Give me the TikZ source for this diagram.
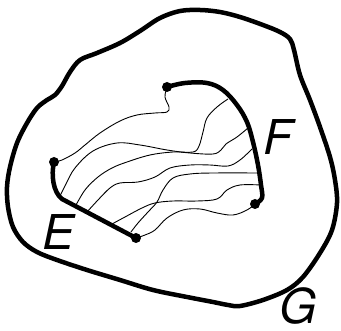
\documentclass[tikz,border=0pt]{standalone}
\usepackage{fontspec}
\setmainfont{TeX Gyre Heros}
\tikzset{
  outer/.style={line width=4.5pt, line join=round},
  bound/.style={line width=4.5pt, line cap=round, line join=round},
  thin/.style={line width=0.9pt},
  dotm/.style={fill=black},
  lab/.style={inner sep=0pt, font=\fontsize{48}{48}\selectfont\itshape}
}
\begin{document}
\begin{tikzpicture}[x=1pt,y=-1pt]
\useasboundingbox (0,0) rectangle (341,331);
% outer region G
\draw[outer] plot[smooth cycle, tension=0.55] coordinates {
 (80,60) (97,53) (120,43) (140,31) (160,18) (180,11) (200,10) (220,12) (240,17)
 (263,25) (280,32) (290,39) (294,50) (300,75) (310,100) (320,127) (330,157) (335,180)
 (337,203) (332,230) (320,253) (303,277) (287,290) (263,300) (240,306) (228,305)
 (213,302) (187,297) (153,290) (120,280) (87,270) (57,260) (37,252) (23,242)
 (13,227) (8,207) (7,187) (10,167) (17,143) (27,123) (37,108) (47,100) (55,95)
 (62,86) (70,72) };
% dots
\coordinate (P) at (167,87);
\coordinate (Q) at (54,162);
\coordinate (R) at (136,238);
\coordinate (S) at (255,204);
\coordinate (C) at (62,199);
% thick boundary F
\draw[bound] plot[smooth, tension=0.6] coordinates {
 (P) (185,83) (207,83) (223,90) (237,105) (247,122) (253,142) (258,165) (261,185) (262,198) (S) };
% thick boundary E
\draw[bound] (Q) .. controls (51,175) and (53,192) .. (C) -- (R);
% thin curves
\draw[thin] plot[smooth, tension=0.6] coordinates {
 (P) (165,97) (169,107) (167,112) (155,113) (137,115) (120,121) (100,133) (85,145) (75,153) (62,160) (Q) };
\draw[thin] plot[smooth, tension=0.6] coordinates {
 (60,196) (66,184) (75,168) (93,151) (117,143) (140,145) (167,150) (190,153) (213,154) (221,150) (226,144) (237,137) (248,128) };
\draw[thin] plot[smooth, tension=0.6] coordinates {
 (75,207) (85,190) (98,177) (112,168) (127,162) (150,155) (173,152) (193,152) (199,146) (203,132) (207,118) (217,107) (228,99) };
\draw[thin] plot[smooth, tension=0.6] coordinates {
 (87,212) (98,200) (110,188) (120,183) (138,182) (155,177) (170,168) (190,165) (210,165) (228,166) (240,160) (252,149) };
\draw[thin] plot[smooth, tension=0.6] coordinates {
 (112,224) (125,217) (142,208) (155,203) (173,201) (197,201) (217,199) (227,190) (240,185) (261,185) };
\draw[thin] plot[smooth, tension=0.6] coordinates {
 (131,232) (138,223) (148,212) (157,202) (163,190) (173,178) (190,174) (213,173) (260,173) };
\draw[thin] plot[smooth, tension=0.6] coordinates {
 (R) (145,235) (155,230) (167,218) (183,210) (200,209) (217,213) (233,215) (247,210) (S) };
% dots
\foreach \p in {P,Q,R,S} \fill[dotm] (\p) circle (5pt);
% labels
\node[lab] (lE) at (59,232) {E};
\node[lab] (lF) at (278,137) {F};
\node[lab] (lG) at (298,306) {G};
\end{tikzpicture}
\end{document}
